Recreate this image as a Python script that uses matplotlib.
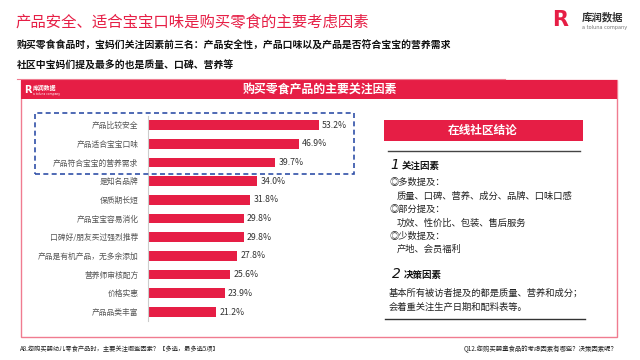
import matplotlib
matplotlib.use("Agg")
import matplotlib.pyplot as plt
from matplotlib.patches import Rectangle

plt.rcParams['font.family'] = ['Noto Sans CJK SC', 'DejaVu Sans']

categories = ["产品比较安全", "产品适合宝宝口味", "产品符合宝宝的营养需求", "是知名品牌", "保质期长短",
              "产品宝宝容易消化", "口碑好/朋友买过强烈推荐", "产品是有机产品，无多余添加",
              "营养师审核配方", "价格实惠", "产品品类丰富"]
values = [53.2, 46.9, 39.7, 34.0, 31.8, 29.8, 29.8, 27.8, 25.6, 23.9, 21.2]

title = "产品安全、适合宝宝口味是购买零食的主要考虑因素"
subtitle1 = "购买零食食品时，宝妈们关注因素前三名：产品安全性，产品口味以及产品是否符合宝宝的营养需求"
subtitle2 = "社区中宝妈们提及最多的也是质量、口碑、营养等"
chart_title = "购买零食产品的主要关注因素"

RED = "#E61E45"
W, H = 640, 360
fig = plt.figure(figsize=(6.4, 3.6), dpi=100)

def fx(x):
    return x / W

def fy(y):
    return 1 - y / H

def T(x, y, s, **kw):
    fig.text(fx(x), fy(y), s, **kw)

def R(x0, y0, x1, y1, **kw):
    fig.patches.append(Rectangle((fx(x0), fy(y1)), fx(x1) - fx(x0), (y1 - y0) / H,
                                 transform=fig.transFigure, figure=fig, **kw))

def L(x0, y0, x1, y1, **kw):
    fig.add_artist(plt.Line2D([fx(x0), fx(x1)], [fy(y0), fy(y1)], transform=fig.transFigure, **kw))

# Title area
T(15, 23, title, color=RED, fontsize=11.1, va='center', ha='left')
T(17, 46, subtitle1, color='#111111', fontsize=7.1, va='center', ha='left', fontweight='bold')
T(17, 66, subtitle2, color='#111111', fontsize=7.1, va='center', ha='left', fontweight='bold')
L(17, 79, 505, 79, color='#F07C90', lw=0.8)

# Logo top right
T(552, 20, "R", color=RED, fontsize=15, fontweight='bold', va='center', ha='left', family='DejaVu Sans')
T(582, 17, "库润数据", color='#333333', fontsize=7.5, fontweight='bold', va='center', ha='left')
T(582, 27, "a toluna company", color='#777777', fontsize=3.6, va='center', ha='left', family='DejaVu Sans')

# Frame and header
R(21, 80, 617, 337, facecolor='none', edgecolor='#F07C90', lw=1.0)
R(21, 80, 617, 99, facecolor=RED, edgecolor='none')
T(320, 90, chart_title, color='white', fontsize=8.6, fontweight='bold', va='center', ha='center')
T(24, 90, "R", color='white', fontsize=7, fontweight='bold', va='center', ha='left', family='DejaVu Sans')
T(33, 88, "库润数据", color='white', fontsize=4.2, fontweight='bold', va='center', ha='left')
T(33, 94, "a toluna company", color='white', fontsize=2.2, va='center', ha='left', family='DejaVu Sans')

# Bar chart
step = 18.7
top = 125 - step / 2
bottom = top + step * len(values)
ax_left, ax_w = 148, 200
ax = fig.add_axes([fx(ax_left), fy(bottom), ax_w / W, (bottom - top) / H])
ypos = list(range(len(values)))
ax.barh(ypos, values, height=0.52, color=RED, edgecolor='none')
ax.set_ylim(len(values) - 0.5, -0.5)
ax.set_xlim(0, ax_w / 3.21)
for yv, v in zip(ypos, values):
    ax.text(v + 1.0, yv, f"{v:.1f}%", va='center', ha='left', fontsize=6.3, color='#333333')
ax.set_yticks(ypos)
ax.set_yticklabels(categories, fontsize=5.6, color='#555555')
ax.tick_params(axis='y', length=0, pad=7)
ax.set_xticks([])
for s in ['top', 'right', 'bottom']:
    ax.spines[s].set_visible(False)
ax.spines['left'].set_color('#CCCCCC')
ax.spines['left'].set_linewidth(0.8)
ax.patch.set_visible(False)

# Dashed highlight box
R(35, 113, 354, 174, facecolor='none', edgecolor='#3050A8', lw=1.2, linestyle=(0, (3, 2)))

# Right panel
R(384, 120, 583, 141, facecolor=RED, edgecolor='none')
T(483, 130.5, "在线社区结论", color='white', fontsize=8.4, fontweight='bold', va='center', ha='center')
L(388, 151, 580, 151, color='#444444', lw=1.0)
T(390, 165, "1", color='#111111', fontsize=10, va='center', ha='left', style='italic', family='DejaVu Sans')
T(402, 166, "关注因素", color='#111111', fontsize=6.8, va='center', ha='left', fontweight='bold')
body = '#222222'
fs = 6.7
T(389, 182, "◎多数提及：", color=body, fontsize=fs, va='center', ha='left')
T(397, 196, "质量、口碑、营养、成分、品牌、口味口感", color=body, fontsize=fs, va='center', ha='left')
T(389, 209, "◎部分提及：", color=body, fontsize=fs, va='center', ha='left')
T(397, 223, "功效、性价比、包装、售后服务", color=body, fontsize=fs, va='center', ha='left')
T(389, 236, "◎少数提及：", color=body, fontsize=fs, va='center', ha='left')
T(397, 249, "产地、会员福利", color=body, fontsize=fs, va='center', ha='left')
T(392, 274, "2", color='#111111', fontsize=10, va='center', ha='left', style='italic', family='DejaVu Sans')
T(404, 275, "决策因素", color='#111111', fontsize=6.8, va='center', ha='left', fontweight='bold')
T(389, 293, "基本所有被访者提及的都是质量、营养和成分；", color=body, fontsize=fs, va='center', ha='left')
T(389, 307, "会着重关注生产日期和配料表等。", color=body, fontsize=fs, va='center', ha='left')
L(385, 319, 585, 319, color='#333333', lw=1.0)

# Footnotes
T(20, 349, "A8.您购买婴幼儿零食产品时，主要关注哪些因素？【多选，最多选5项】", color='#222222', fontsize=4.5, va='center', ha='left')
T(618, 349, "Q12.您购买婴童食品的考虑因素有哪些？决策因素呢？", color='#222222', fontsize=4.6, va='center', ha='right')

fig.savefig("out.png", dpi=100)
